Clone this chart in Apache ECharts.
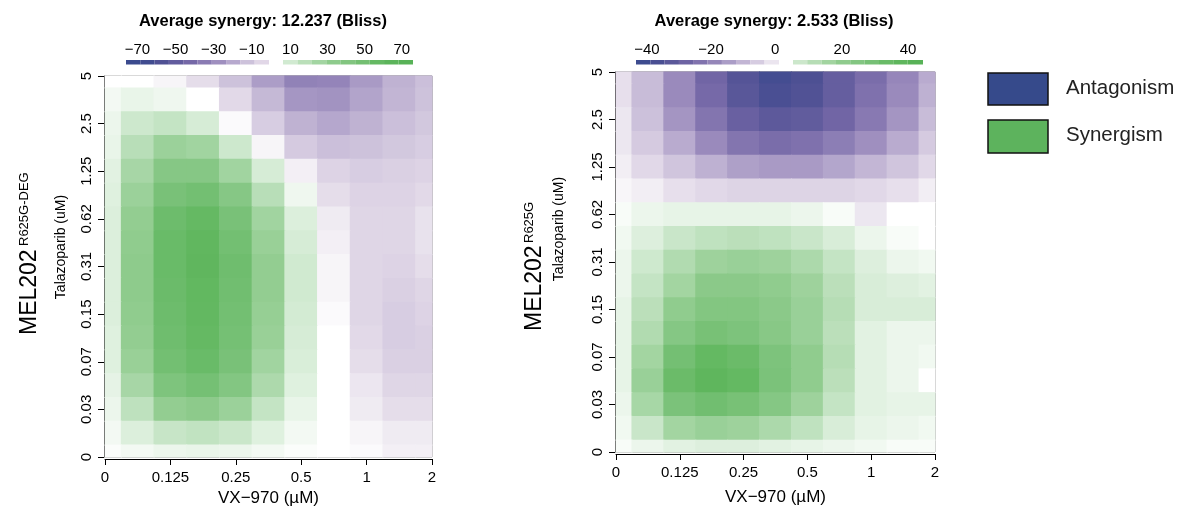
<!DOCTYPE html>
<html>
<head>
<meta charset="utf-8">
<title>Bliss synergy</title>
<script src="https://cdn.jsdelivr.net/npm/echarts@6/dist/echarts.min.js"></script>
<style>html,body{margin:0;padding:0;background:#fff}#main{width:1189px;height:512px}</style>
</head>
<body>
<div id="main"></div>
<script type="text/javascript">
// dose labels (uM)
var xDoses = ['0', '0.125', '0.25', '0.5', '1', '2'];
var yDoses = ['0', '0.03', '0.07', '0.15', '0.31', '0.62', '1.25', '2.5', '5'];

// synergy surface at half dose steps
// columns follow xSteps, rows follow ySteps (top row first)
var xSteps = [0, 0.5, 1, 1.5, 2, 2.5, 3, 3.5, 4, 4.5, 5];
var ySteps = [8, 7.5, 7, 6.5, 6, 5.5, 5, 4.5, 4, 3.5, 3, 2.5, 2, 1.5, 1, 0.5, 0];

var blissDEG = [
  [0, 0, -2, -7, -16, -27, -36, -35, -28, -21, -17],
  [3, 6, 4, 0, -8, -19, -29, -30, -25, -20, -16],
  [5, 15, 18, 12, -1, -12, -21, -24, -21, -17, -14],
  [6, 22, 32, 30, 15, -2, -13, -17, -16, -14, -12],
  [8, 28, 42, 42, 30, 12, -3, -10, -12, -11, -10],
  [9, 32, 50, 53, 42, 22, 4, -7, -10, -10, -8],
  [10, 35, 56, 60, 50, 30, 10, -4, -9, -9, -6],
  [10, 36, 58, 63, 53, 33, 12, -3, -9, -9, -6],
  [10, 37, 58, 64, 55, 35, 14, -2, -9, -10, -7],
  [10, 37, 57, 62, 54, 35, 14, -2, -9, -11, -9],
  [10, 36, 56, 61, 53, 34, 13, -1, -9, -12, -10],
  [9, 35, 55, 60, 52, 33, 12, 0, -8, -12, -11],
  [9, 33, 53, 58, 50, 30, 11, 0, -7, -11, -11],
  [7, 28, 47, 52, 44, 26, 9, 0, -5, -9, -9],
  [5, 20, 35, 38, 32, 18, 6, 0, -4, -7, -7],
  [3, 10, 17, 19, 16, 9, 3, 0, -2, -4, -4],
  [1, 3, 5, 6, 5, 3, 1, 0, -1, -3, -3]
];

var blissR625G = [
  [-4, -11, -20, -29, -36, -41, -38, -32, -27, -21, -14],
  [-4, -11, -20, -28, -35, -39, -37, -32, -26, -20, -13],
  [-3, -10, -18, -25, -31, -34, -33, -29, -24, -18, -11],
  [-3, -8, -14, -20, -25, -27, -26, -23, -19, -14, -8],
  [-2, -5, -9, -13, -16, -17, -17, -15, -12, -9, -5],
  [-1, -2, -4, -5, -6, -6, -6, -6, -5, -4, -2],
  [1, 3, 4, 4, 4, 4, 3, 1, -3, 0, 0],
  [2, 6, 10, 12, 13, 12, 10, 7, 3, 1, 0],
  [3, 9, 15, 19, 20, 19, 16, 11, 6, 3, 2],
  [3, 11, 18, 24, 24, 22, 19, 13, 7, 6, 5],
  [4, 13, 22, 27, 27, 24, 20, 14, 7, 7, 7],
  [4, 15, 26, 31, 29, 25, 20, 13, 5, 3, 3],
  [4, 18, 32, 37, 35, 29, 22, 14, 5, 3, 2],
  [4, 20, 35, 40, 37, 30, 22, 13, 5, 3, 0],
  [3, 17, 30, 33, 31, 26, 19, 11, 5, 4, 4],
  [2, 10, 18, 20, 19, 16, 12, 7, 4, 3, 2],
  [1, 3, 5, 6, 6, 5, 4, 3, 2, 1, 1]
];

var avgDEG = '12.237';
var avgR625G = '2.533';

// colour key steps and labels
var keyDEGneg = [-76, -68.5, -61, -53.5, -46, -38.5, -31, -23.5, -16, -8.5, -1];
var keyDEGpos = [6, 13.8, 21.6, 29.3, 37.1, 44.9, 52.7, 60.4, 68.2, 76];
var keyR625Gneg = [-43.4, -38.9, -34.5, -30, -25.6, -21.1, -16.6, -12.2, -7.7, -3.3, 1.2];
var keyR625Gpos = [5.2, 9.5, 13.9, 18.2, 22.5, 26.8, 31.2, 35.5, 39.8, 44.5];
var ticksDEGneg = [-70, -50, -30, -10];
var ticksDEGpos = [10, 30, 50, 70];
var ticksR625Gneg = [-40, -20, 0];
var ticksR625Gpos = [20, 40];

var FONT = '"Liberation Sans", Arial, Helvetica, sans-serif';

var purpleStops = [[0, '#ffffff'], [0.04, '#f3f0f5'], [0.11, '#e2d9e8'], [0.25, '#c8bcd8'], [0.44, '#9d8dbe'], [0.65, '#7366a6'], [0.85, '#4f5194'], [1, '#3b4a8e']];
var greenStops = [[0, '#ffffff'], [0.05, '#f0f8f0'], [0.14, '#dcefdc'], [0.34, '#b1dbb0'], [0.5, '#90cc8e'], [0.68, '#7bc27a'], [0.85, '#63b861'], [1, '#58b257']];

function rgb(h) {
  return [parseInt(h.substr(1, 2), 16), parseInt(h.substr(3, 2), 16), parseInt(h.substr(5, 2), 16)];
}
function synColor(v, maxAbs) {
  var t = Math.min(Math.abs(v) / maxAbs, 1);
  var stops = v < 0 ? purpleStops : greenStops;
  for (var i = 1; i < stops.length; i++) {
    if (t <= stops[i][0]) {
      var f = (t - stops[i - 1][0]) / (stops[i][0] - stops[i - 1][0]);
      var a = rgb(stops[i - 1][1]), b = rgb(stops[i][1]);
      return 'rgb(' + Math.round(a[0] + (b[0] - a[0]) * f) + ',' + Math.round(a[1] + (b[1] - a[1]) * f) + ',' + Math.round(a[2] + (b[2] - a[2]) * f) + ')';
    }
  }
  return stops[stops.length - 1][1];
}

function toCells(mat) {
  var out = [];
  for (var r = 0; r < ySteps.length; r++) {
    for (var c = 0; c < xSteps.length; c++) {
      out.push([xSteps[c], ySteps[r], mat[r][c]]);
    }
  }
  return out;
}
function toKey(breaks) {
  var out = [];
  for (var i = 0; i < breaks.length - 1; i++) {
    var ext = breaks[i] < 0 ? breaks[i] : breaks[i + 1];
    out.push([breaks[i], breaks[i + 1], ext]);
  }
  return out;
}

function cellRenderer(maxAbs) {
  return function (params, api) {
    var x = api.value(0), y = api.value(1), v = api.value(2);
    var a = api.coord([Math.max(x - 0.25, 0), Math.min(y + 0.25, 8)]);
    var b = api.coord([Math.min(x + 0.25, 5), Math.max(y - 0.25, 0)]);
    return {
      type: 'rect',
      shape: {x: a[0] - 0.5, y: a[1] - 0.5, width: b[0] - a[0] + 1, height: b[1] - a[1] + 1},
      style: {fill: synColor(v, maxAbs)}
    };
  };
}
function keyRenderer(maxAbs) {
  return function (params, api) {
    var a = api.coord([api.value(0), 1]);
    var b = api.coord([api.value(1), 0]);
    return {
      type: 'rect',
      shape: {x: a[0], y: a[1], width: b[0] - a[0], height: b[1] - a[1]},
      style: {fill: synColor(api.value(2), maxAbs)}
    };
  };
}

function mainX(grid, gap) {
  return {
    type: 'value', gridIndex: grid, min: 0, max: 5, interval: 1, offset: 2,
    axisLine: {onZero: false, lineStyle: {color: '#000', width: 1}},
    axisTick: {length: 6, lineStyle: {color: '#000'}},
    axisLabel: {margin: 11, color: '#000', fontSize: 15, fontFamily: FONT,
      formatter: function (v) { return xDoses[v]; }},
    splitLine: {show: false},
    name: 'VX\u2212970 (\u00b5M)', nameLocation: 'middle', nameGap: gap,
    nameTextStyle: {fontSize: 17, color: '#000', fontFamily: FONT}
  };
}
function mainY(grid) {
  return {
    type: 'value', gridIndex: grid, min: 0, max: 8, interval: 1, offset: 1,
    axisLine: {onZero: false, lineStyle: {color: '#000', width: 1}},
    axisTick: {length: 6, lineStyle: {color: '#000'}},
    axisLabel: {rotate: 90, margin: 10, color: '#000', fontSize: 15, fontFamily: FONT,
      formatter: function (v) { return yDoses[v]; }},
    splitLine: {show: false}
  };
}
function keyX(grid, lo, hi, ticks) {
  return {
    type: 'value', gridIndex: grid, min: lo, max: hi, position: 'top',
    axisLine: {show: false}, axisTick: {show: false}, splitLine: {show: false},
    axisLabel: {customValues: ticks, margin: 3, color: '#000', fontSize: 15, fontFamily: FONT,
      formatter: function (v) { return String(v).replace('-', '\u2212'); }}
  };
}
function keyY(grid) {
  return {type: 'value', gridIndex: grid, min: 0, max: 1, show: false};
}

var M1 = 72, M2 = 44;
var myChart = echarts.init(document.getElementById('main'));

var option = {
  animation: false,
  grid: [
    {left: 105, top: 76, width: 327, height: 383, show: true, borderColor: '#666', borderWidth: 1},
    {left: 616, top: 72, width: 319, height: 380, show: true, borderColor: '#666', borderWidth: 1},
    {left: 126, top: 60, width: 143, height: 4.5},
    {left: 283, top: 60, width: 130, height: 4.5},
    {left: 636, top: 60, width: 143, height: 4.5},
    {left: 793, top: 60, width: 130, height: 4.5}
  ],
  xAxis: [
    mainX(0, 31), mainX(1, 35),
    keyX(2, keyDEGneg[0], keyDEGneg[keyDEGneg.length - 1], ticksDEGneg),
    keyX(3, keyDEGpos[0], keyDEGpos[keyDEGpos.length - 1], ticksDEGpos),
    keyX(4, keyR625Gneg[0], keyR625Gneg[keyR625Gneg.length - 1], ticksR625Gneg),
    keyX(5, keyR625Gpos[0], keyR625Gpos[keyR625Gpos.length - 1], ticksR625Gpos)
  ],
  yAxis: [mainY(0), mainY(1), keyY(2), keyY(3), keyY(4), keyY(5)],
  series: [
    {type: 'custom', xAxisIndex: 0, yAxisIndex: 0, data: toCells(blissDEG), renderItem: cellRenderer(M1), z: 1},
    {type: 'custom', xAxisIndex: 1, yAxisIndex: 1, data: toCells(blissR625G), renderItem: cellRenderer(M2), z: 1},
    {type: 'custom', xAxisIndex: 2, yAxisIndex: 2, data: toKey(keyDEGneg), renderItem: keyRenderer(M1)},
    {type: 'custom', xAxisIndex: 3, yAxisIndex: 3, data: toKey(keyDEGpos), renderItem: keyRenderer(M1)},
    {type: 'custom', xAxisIndex: 4, yAxisIndex: 4, data: toKey(keyR625Gneg), renderItem: keyRenderer(M2)},
    {type: 'custom', xAxisIndex: 5, yAxisIndex: 5, data: toKey(keyR625Gpos), renderItem: keyRenderer(M2)}
  ],
  graphic: [
    {type: 'text', x: 263, y: 21, style: {text: 'Average synergy: ' + avgDEG + ' (Bliss)', font: 'bold 16.5px ' + FONT, fill: '#000', textAlign: 'center', textVerticalAlign: 'middle'}},
    {type: 'text', x: 774, y: 21, style: {text: 'Average synergy: ' + avgR625G + ' (Bliss)', font: 'bold 16.5px ' + FONT, fill: '#000', textAlign: 'center', textVerticalAlign: 'middle'}},
    // y titles
    {type: 'text', x: 61, y: 247, rotation: Math.PI / 2, style: {text: 'Talazoparib (uM)', font: '14px ' + FONT, fill: '#000', textAlign: 'center', textVerticalAlign: 'middle'}},
    {type: 'text', x: 559, y: 229, rotation: Math.PI / 2, style: {text: 'Talazoparib (uM)', font: '14px ' + FONT, fill: '#000', textAlign: 'center', textVerticalAlign: 'middle'}},
    {type: 'text', x: 30, y: 335, rotation: Math.PI / 2, style: {text: 'MEL202', font: '23px ' + FONT, fill: '#000', textAlign: 'left', textVerticalAlign: 'middle'}},
    {type: 'text', x: 24, y: 246, rotation: Math.PI / 2, style: {text: 'R625G-DEG', font: '13px ' + FONT, fill: '#000', textAlign: 'left', textVerticalAlign: 'middle'}},
    {type: 'text', x: 535, y: 331, rotation: Math.PI / 2, style: {text: 'MEL202', font: '23px ' + FONT, fill: '#000', textAlign: 'left', textVerticalAlign: 'middle'}},
    {type: 'text', x: 529, y: 243, rotation: Math.PI / 2, style: {text: 'R625G', font: '13px ' + FONT, fill: '#000', textAlign: 'left', textVerticalAlign: 'middle'}},
    // legend
    {type: 'rect', shape: {x: 988, y: 73, width: 60, height: 32}, style: {fill: '#364a8b', stroke: '#111', lineWidth: 1.5}},
    {type: 'rect', shape: {x: 988, y: 120, width: 60, height: 33}, style: {fill: '#5db35d', stroke: '#111', lineWidth: 1.5}},
    {type: 'text', x: 1066, y: 88, style: {text: 'Antagonism', font: '20.5px ' + FONT, fill: '#222', textAlign: 'left', textVerticalAlign: 'middle'}},
    {type: 'text', x: 1066, y: 135, style: {text: 'Synergism', font: '20.5px ' + FONT, fill: '#222', textAlign: 'left', textVerticalAlign: 'middle'}}
  ]
};
myChart.setOption(option);
</script>
</body>
</html>
